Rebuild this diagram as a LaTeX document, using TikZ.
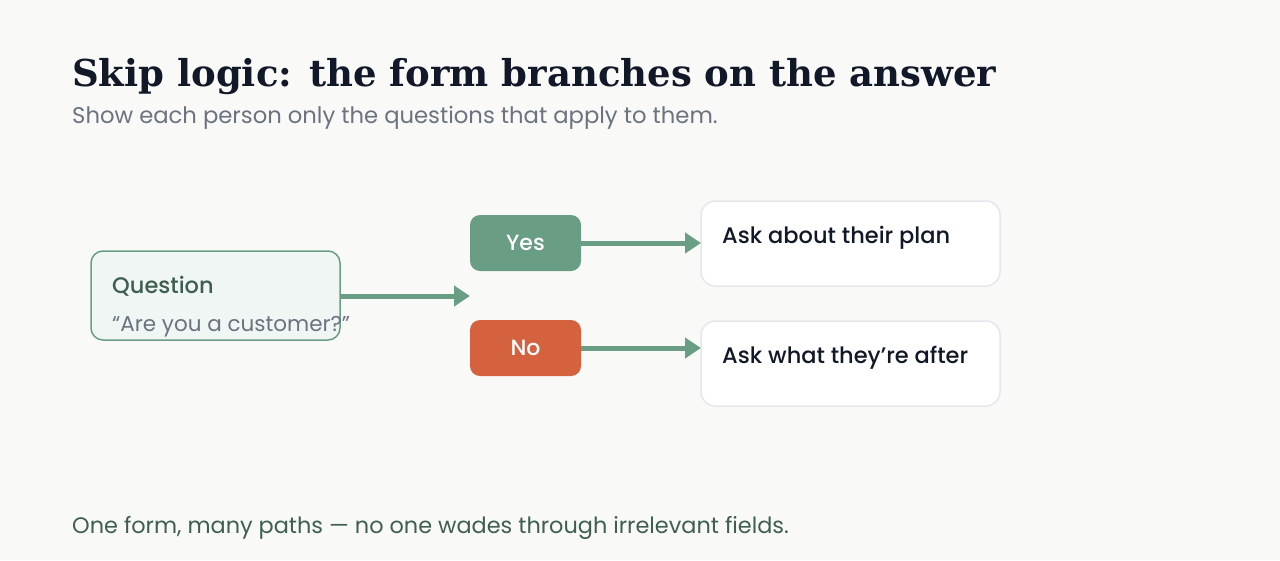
\documentclass[tikz,border=0pt]{standalone}
\usepackage{fontspec}
\setmainfont{Poppins}
\newfontfamily\medfont{Poppins Medium}
\newfontfamily\titlefont{DejaVu Serif}
\usetikzlibrary{arrows.meta}
\definecolor{bg}{HTML}{F9F9F7}
\definecolor{ink}{HTML}{111827}
\definecolor{muted}{HTML}{6B7280}
\definecolor{sage}{HTML}{6A9E84}
\definecolor{sagedark}{HTML}{3F5F50}
\definecolor{sagelight}{HTML}{F0F6F4}
\definecolor{rust}{HTML}{D4623F}
\definecolor{lightline}{HTML}{E5E7EB}
\tikzset{
  txt/.style={inner sep=0pt, anchor=base west},
  qbox/.style={draw=sage, fill=sagelight, line width=1.5pt, rounded corners=12pt},
  choice/.style={rounded corners=10pt, minimum width=111pt, minimum height=56pt, inner sep=0pt, text=white, font=\medfont\fontsize{22}{26}\selectfont},
  ansbox/.style={draw=lightline, fill=white, line width=1.5pt, rounded corners=14pt},
  flow/.style={draw=sage, line width=5pt, -{Triangle[length=16pt,width=20pt]}},
}
\begin{document}
\begin{tikzpicture}[x=1pt,y=-1pt]
\fill[bg] (0,0) rectangle (1280,560);
\useasboundingbox (0,0) rectangle (1280,560);
% title
\node[txt, text=ink, font=\titlefont\bfseries\fontsize{37}{44}\selectfont] (title) at (72,86) {Skip logic: the form branches on the answer};
\node[txt, text=muted, font=\fontsize{22.7}{27}\selectfont] (subtitle) at (72,123) {Show each person only the questions that apply to them.};
% question box
\draw[qbox] (91,251) rectangle (340,340);
\coordinate (qeast) at (340,296);
\node[txt, text=sagedark, font=\medfont\fontsize{22.5}{26}\selectfont] (qlabel) at (112,293) {Question};
\node[txt, text=muted, font=\fontsize{21.5}{26}\selectfont] (qtext) at (112,331) {“Are you a customer?”};
\coordinate (split) at (470,296);
\draw[flow] (qeast) -- (split);
% choices
\node[choice, fill=sage] (yes) at (525.5,243) {Yes};
\node[choice, fill=rust] (no) at (525.5,348) {No};
% answers
\draw[ansbox] (701,201) rectangle (1000,286);
\draw[ansbox] (701,321) rectangle (1000,406);
\coordinate (a1) at (701,243);
\coordinate (a2) at (701,348);
\node[txt, text=ink, font=\medfont\fontsize{22.5}{26}\selectfont] (plan) at (722,243) {Ask about their plan};
\node[txt, text=ink, font=\medfont\fontsize{22.5}{26}\selectfont] (after) at (722,363) {Ask what they’re after};
\draw[flow] (yes.east) -- (yes.east -| a1);
\draw[flow] (no.east) -- (no.east -| a2);
% footer
\node[txt, text=sagedark, font=\fontsize{22.4}{26}\selectfont] (footer) at (72,533) {One form, many paths — no one wades through irrelevant fields.};
\end{tikzpicture}
\end{document}
